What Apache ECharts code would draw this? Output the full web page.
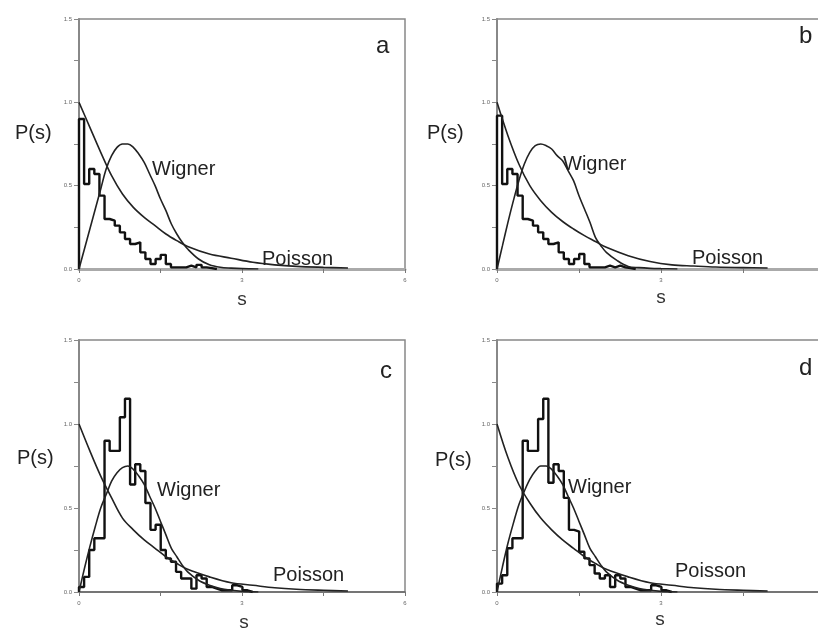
<!DOCTYPE html>
<html>
<head>
<meta charset="utf-8">
<script src="https://cdn.jsdelivr.net/npm/echarts@6/dist/echarts.min.js"></script>
<style>
  html, body { margin: 0; padding: 0; background: #fff; }
  #chart { width: 818px; height: 636px; }
</style>
</head>
<body>
<div id="chart"></div>
<script>
// Level-spacing distributions P(s): histograms compared with Wigner and Poisson curves.

// x-axis tick labels (s) and y-axis tick labels (P(s))
const xTickLabels = ['0', '3', '6'];
const yTickLabels = ['0.0', '0.5', '1.0', '1.5'];

// Histogram bin width in s
const binWidth = 0.094;

// Histogram heights per bin, starting at s = 0
const histA = [0.90, 0.51, 0.60, 0.57, 0.44, 0.30, 0.29, 0.26, 0.22, 0.18, 0.15, 0.16, 0.10, 0.06,
               0.03, 0.06, 0.085, 0.03, 0.01, 0.01, 0.01, 0.02, 0.01, 0.025, 0.01, 0.005, 0.0];
const histB = [0.92, 0.51, 0.60, 0.57, 0.44, 0.30, 0.29, 0.26, 0.22, 0.18, 0.15, 0.16, 0.10, 0.06,
               0.03, 0.06, 0.09, 0.03, 0.01, 0.01, 0.01, 0.02, 0.01, 0.02, 0.01, 0.005, 0.0];
const histC = [0.03, 0.09, 0.25, 0.32, 0.32, 0.90, 0.84, 0.84, 1.04, 1.15, 0.64, 0.76, 0.72, 0.53,
               0.37, 0.40, 0.25, 0.20, 0.18, 0.12, 0.08, 0.08, 0.02, 0.10, 0.08, 0.03, 0.02, 0.01,
               0.01, 0.01, 0.04, 0.03, 0.01, 0.0];
const histD = [0.05, 0.10, 0.26, 0.32, 0.32, 0.90, 0.84, 0.84, 1.03, 1.15, 0.65, 0.76, 0.72, 0.56,
               0.37, 0.36, 0.24, 0.20, 0.16, 0.11, 0.08, 0.10, 0.03, 0.10, 0.08, 0.03, 0.02, 0.01,
               0.01, 0.01, 0.04, 0.03, 0.01, 0.0];

// Wigner curve samples
const wignerS = [0, 0.1, 0.2, 0.3, 0.4, 0.5, 0.6, 0.7, 0.8, 0.9, 1.0, 1.1, 1.2, 1.3, 1.4, 1.5,
                 1.6, 1.7, 1.8, 1.9, 2.0, 2.2, 2.4, 2.6, 2.8, 3.0, 3.3];
const wignerA = [0, 0.12, 0.24, 0.36, 0.48, 0.60, 0.68, 0.73, 0.75, 0.75, 0.73, 0.69, 0.64, 0.57,
                 0.50, 0.42, 0.35, 0.27, 0.21, 0.16, 0.12, 0.06, 0.025, 0.01, 0.005, 0.002, 0];
const wignerB = [0, 0.14, 0.28, 0.41, 0.53, 0.63, 0.70, 0.74, 0.75, 0.74, 0.72, 0.68, 0.65, 0.59,
                 0.53, 0.44, 0.36, 0.28, 0.19, 0.14, 0.10, 0.05, 0.015, 0.008, 0.004, 0.002, 0];
const wignerC = [0, 0.14, 0.27, 0.39, 0.50, 0.58, 0.66, 0.71, 0.74, 0.75, 0.73, 0.69, 0.64, 0.57,
                 0.50, 0.42, 0.34, 0.26, 0.21, 0.16, 0.12, 0.07, 0.04, 0.02, 0.01, 0.004, 0];
const wignerD = [0, 0.15, 0.29, 0.41, 0.52, 0.60, 0.67, 0.72, 0.75, 0.75, 0.73, 0.69, 0.64, 0.57,
                 0.50, 0.42, 0.34, 0.26, 0.21, 0.16, 0.12, 0.07, 0.04, 0.02, 0.01, 0.004, 0];

// Poisson curve samples
const poissonS = [0, 0.2, 0.4, 0.6, 0.8, 1.0, 1.2, 1.4, 1.6, 1.8, 2.0, 2.4, 2.8, 3.2, 3.6, 4.0, 4.5, 4.95];
const poissonA = [1.0, 0.85, 0.70, 0.56, 0.45, 0.37, 0.31, 0.26, 0.21, 0.17, 0.135, 0.09, 0.065, 0.04, 0.025, 0.016, 0.01, 0.006];
const poissonB = [1.0, 0.80, 0.63, 0.50, 0.41, 0.34, 0.285, 0.24, 0.20, 0.165, 0.13, 0.08, 0.045, 0.025, 0.018, 0.012, 0.008, 0.006];
const poissonC = [1.0, 0.84, 0.69, 0.56, 0.44, 0.37, 0.31, 0.26, 0.21, 0.17, 0.135, 0.09, 0.055, 0.04, 0.025, 0.016, 0.01, 0.006];
const poissonD = [1.0, 0.80, 0.64, 0.53, 0.44, 0.37, 0.31, 0.26, 0.21, 0.17, 0.135, 0.09, 0.055, 0.04, 0.025, 0.016, 0.01, 0.006];

// Panels b and d run past the right edge of the page
const panels = [
  { letter: 'a', hist: histA, wigner: wignerA, poisson: poissonA,
    grid: { left: 79, top: 19, width: 326, height: 250 }, baseLine: { color: '#aaa', width: 3 } },
  { letter: 'b', hist: histB, wigner: wignerB, poisson: poissonB,
    grid: { left: 497, top: 19, width: 328, height: 250 }, baseLine: { color: '#aaa', width: 3 } },
  { letter: 'c', hist: histC, wigner: wignerC, poisson: poissonC,
    grid: { left: 79, top: 340, width: 326, height: 252 }, baseLine: { color: '#666', width: 1.5 } },
  { letter: 'd', hist: histD, wigner: wignerD, poisson: poissonD,
    grid: { left: 497, top: 340, width: 328, height: 252 }, baseLine: { color: '#666', width: 1.5 } }
];

// Text annotations for each panel (pixel placement of labels)
const annotations = [
  { letter: [376, 58], ps: [15, 133], s: [242, 300], wigner: [152, 159], poisson: [262, 249] },
  { letter: [799, 48], ps: [427, 133], s: [661, 298], wigner: [563, 154], poisson: [692, 248] },
  { letter: [380, 383], ps: [17, 458], s: [244, 623], wigner: [157, 480], poisson: [273, 565] },
  { letter: [799, 380], ps: [435, 460], s: [660, 620], wigner: [568, 477], poisson: [675, 561] }
];

function stepData(values) {
  const pts = [[0, 0]];
  values.forEach((v, k) => pts.push([k * binWidth, v]));
  pts.push([values.length * binWidth, 0]);
  return pts;
}
function curveData(xs, ys) { return xs.map((x, i) => [x, ys[i]]); }

const FONT = 'Liberation Sans, Arial, sans-serif';
const grids = [], xAxes = [], yAxes = [], series = [], graphics = [];

panels.forEach((p, i) => {
  grids.push(Object.assign({
    show: true, borderColor: '#888', borderWidth: 1.5,
    containLabel: false, outerBoundsMode: 'none'
  }, p.grid));
  xAxes.push({
    type: 'value', gridIndex: i, min: 0, max: 6, interval: 1.5,
    axisLine: { show: true, onZero: false, lineStyle: p.baseLine },
    axisTick: { show: true, length: 4, lineStyle: { color: '#777', width: 1 } },
    axisLabel: {
      fontSize: 6, color: '#666', margin: 8, fontFamily: FONT,
      formatter: v => { const t = String(v); return xTickLabels.includes(t) ? t : ''; }
    },
    splitLine: { show: false }
  });
  yAxes.push({
    type: 'value', gridIndex: i, min: 0, max: 1.5, interval: 0.25,
    axisLine: { show: true, lineStyle: { color: '#888', width: 2 } },
    axisTick: { show: true, length: 5, lineStyle: { color: '#888', width: 1 } },
    axisLabel: {
      fontSize: 6, color: '#666', margin: 7, fontFamily: FONT,
      formatter: v => { const t = v.toFixed(1); return (Math.round(v * 100) % 50 === 0 && yTickLabels.includes(t)) ? t : ''; }
    },
    splitLine: { show: false }
  });
  series.push({
    type: 'line', xAxisIndex: i, yAxisIndex: i, step: 'end', symbol: 'none',
    data: stepData(p.hist), lineStyle: { color: '#111', width: 2.4 }, z: 3
  });
  series.push({
    type: 'line', xAxisIndex: i, yAxisIndex: i, smooth: 0.35, symbol: 'none',
    data: curveData(wignerS, p.wigner), lineStyle: { color: '#222', width: 1.6 }, z: 4
  });
  series.push({
    type: 'line', xAxisIndex: i, yAxisIndex: i, smooth: 0.35, symbol: 'none',
    data: curveData(poissonS, p.poisson), lineStyle: { color: '#222', width: 1.6 }, z: 4
  });

  const a = annotations[i];
  const txt = (pos, text, size, baseline) => ({
    type: 'text', x: pos[0], y: pos[1],
    style: { text, fontSize: size, fontFamily: FONT, fill: '#222',
             textVerticalAlign: baseline || 'top', textAlign: 'left' }
  });
  graphics.push(txt(a.letter, p.letter, 24, 'bottom'));
  graphics.push(txt(a.ps, 'P(s)', 20, 'middle'));
  graphics.push({ type: 'text', x: a.s[0], y: a.s[1],
    style: { text: 's', fontSize: 19, fontFamily: FONT, fill: '#333', textAlign: 'center', textVerticalAlign: 'middle' } });
  graphics.push(txt(a.wigner, 'Wigner', 20));
  graphics.push(txt(a.poisson, 'Poisson', 20));
});

const chart = echarts.init(document.getElementById('chart'), null, { renderer: 'canvas' });
chart.setOption({
  animation: false,
  backgroundColor: '#fff',
  grid: grids,
  xAxis: xAxes,
  yAxis: yAxes,
  series,
  graphic: graphics
});
</script>
</body>
</html>
